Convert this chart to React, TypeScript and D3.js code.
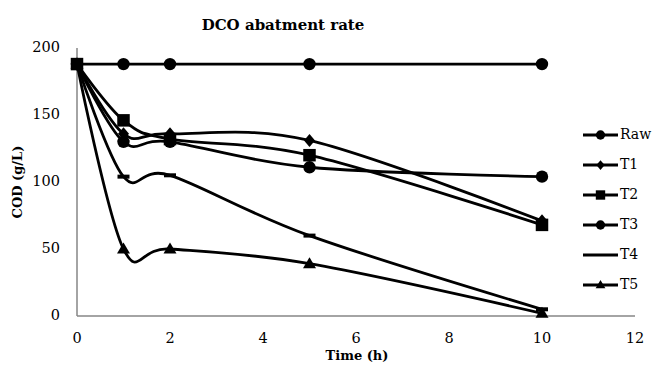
import React from "react";
import * as d3 from "d3";

const times = [0, 1, 2, 5, 10];
const seriesNames = ["Raw", "T1", "T2", "T3", "T4", "T5"];
const rawValues = [188, 188, 188, 188, 188];
const t1Values = [188, 136, 136, 131, 71];
const t2Values = [188, 146, 132, 120, 68];
const t3Values = [188, 130, 130, 111, 104];
const t4Values = [188, 104, 105, 60, 5];
const t5Values = [188, 50, 50, 39, 2];
const markers = ["circle", "diamond", "square", "circle", "dash", "triangle"];
const xTicks = [0, 2, 4, 6, 8, 10, 12];
const yTicks = [0, 50, 100, 150, 200];

const allValues = [rawValues, t1Values, t2Values, t3Values, t4Values, t5Values];
const drawOrder = [0, 1, 3, 4, 5, 2];

const FONT = "'DejaVu Serif', serif";

function Marker({ type, x, y, scale = 1 }: { type: string; x: number; y: number; scale?: number }) {
  if (type === "circle") return <circle cx={x} cy={y} r={6.2 * scale} fill="#000" />;
  if (type === "square") {
    const s = 12.5 * scale;
    return <rect x={x - s / 2} y={y - s / 2} width={s} height={s} fill="#000" />;
  }
  if (type === "diamond") {
    const w = 5.5 * scale, h = 6.5 * scale;
    return <path d={`M${x},${y - h}L${x + w},${y}L${x},${y + h}L${x - w},${y}Z`} fill="#000" />;
  }
  if (type === "triangle") {
    const w = 6.5 * scale, h = 11 * scale;
    return <path d={`M${x},${y - h * 0.6}L${x + w},${y + h * 0.4}L${x - w},${y + h * 0.4}Z`} fill="#000" />;
  }
  if (type === "dash") {
    const w = 12 * scale;
    return <rect x={x - w / 2} y={y - 2} width={w} height={4} fill="#000" />;
  }
  return null;
}

export default function App() {
  const x = d3.scaleLinear().domain([0, 12]).range([77, 635]);
  const y = d3.scaleLinear().domain([0, 200]).range([316, 48]);
  const line = d3
    .line<number>()
    .x((_, i) => x(times[i]))
    .y((v) => y(v))
    .curve(d3.curveCardinal.tension(0));

  return (
    <svg width={654} height={367} style={{ position: "absolute", left: 0, top: 0, background: "#fff" }} fontFamily={FONT}>
      <rect x={0} y={0} width={654} height={367} fill="#fff" />
      <text x={283} y={30} textAnchor="middle" fontWeight="bold" fontSize={15}>
        DCO abatment rate
      </text>
      {/* axes */}
      <line x1={x(0)} x2={x(0)} y1={y(200)} y2={y(0)} stroke="#868686" strokeWidth={1.5} />
      <line x1={x(0)} x2={x(12)} y1={y(0)} y2={y(0)} stroke="#868686" strokeWidth={1.5} />
      {yTicks.map((t) => (
        <text key={"y" + t} x={60} y={y(t)} textAnchor="end" dominantBaseline="middle" fontSize={14.5}>
          {t}
        </text>
      ))}
      {xTicks.map((t) => (
        <text key={"x" + t} x={x(t)} y={343} textAnchor="middle" fontSize={14.5}>
          {t}
        </text>
      ))}
      <text x={357} y={360} textAnchor="middle" fontWeight="bold" fontSize={13}>
        Time (h)
      </text>
      <text
        transform={`translate(22,182) rotate(-90)`}
        textAnchor="middle"
        fontWeight="bold"
        fontSize={13}
      >
        COD (g/L)
      </text>
      {/* lines */}
      {drawOrder.map((si) => (
        <path key={"l" + si} d={line(allValues[si]) || ""} fill="none" stroke="#000" strokeWidth={2.8} />
      ))}
      {drawOrder.map((si) => (
        <g key={"m" + si}>
          {allValues[si].map((v, i) => (
            <Marker key={i} type={markers[si]} x={x(times[i])} y={y(v)} />
          ))}
        </g>
      ))}
      {/* legend */}
      {seriesNames.map((n, i) => {
        const ly = 135 + i * 30;
        return (
          <g key={"lg" + n}>
            <line x1={583} x2={618} y1={ly} y2={ly} stroke="#000" strokeWidth={2.8} />
            {markers[i] !== "dash" && <Marker type={markers[i]} x={600.5} y={ly} scale={0.75} />}
            <text x={620} y={ly} dominantBaseline="middle" fontSize={14}>
              {n}
            </text>
          </g>
        );
      })}
    </svg>
  );
}
